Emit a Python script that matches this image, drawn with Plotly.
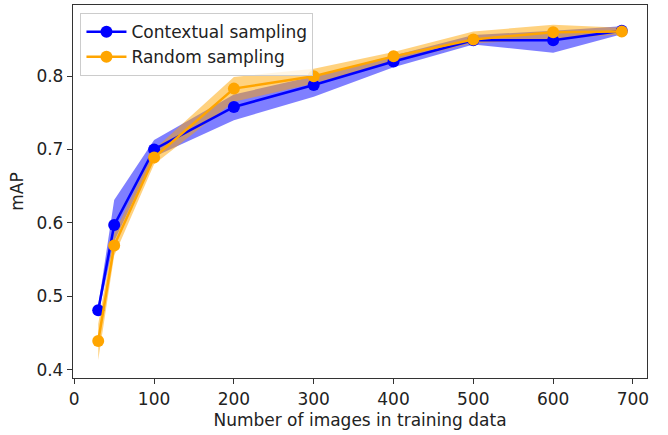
import plotly.graph_objects as go

x_images = [30, 50, 100, 200, 300, 400, 500, 600, 686]

ctx_map = [0.481, 0.597, 0.700, 0.758, 0.788, 0.820, 0.849, 0.849, 0.862]
ctx_low = [0.475, 0.575, 0.690, 0.740, 0.772, 0.812, 0.843, 0.832, 0.857]
ctx_high = [0.487, 0.631, 0.713, 0.775, 0.800, 0.828, 0.856, 0.862, 0.868]

rnd_map = [0.439, 0.569, 0.689, 0.783, 0.800, 0.827, 0.850, 0.860, 0.861]
rnd_low = [0.413, 0.555, 0.680, 0.765, 0.790, 0.820, 0.845, 0.850, 0.857]
rnd_high = [0.462, 0.585, 0.700, 0.799, 0.810, 0.833, 0.861, 0.870, 0.866]

x_ticks = [0, 100, 200, 300, 400, 500, 600, 700]
y_ticks = [0.4, 0.5, 0.6, 0.7, 0.8]

BLUE = "#0000ff"
ORANGE = "#ffa500"

fig = go.Figure()

def band(low, high, color):
    fig.add_trace(go.Scatter(x=x_images, y=high, mode="lines", line=dict(width=0),
                             showlegend=False, hoverinfo="skip"))
    fig.add_trace(go.Scatter(x=x_images, y=low, mode="lines", line=dict(width=0),
                             fill="tonexty", fillcolor=color, showlegend=False, hoverinfo="skip"))

band(ctx_low, ctx_high, "rgba(0,0,255,0.5)")
band(rnd_low, rnd_high, "rgba(255,165,0,0.5)")

fig.add_trace(go.Scatter(x=x_images, y=ctx_map, mode="lines+markers", name="Contextual sampling",
                         line=dict(color=BLUE, width=2.5), marker=dict(color=BLUE, size=12)))
fig.add_trace(go.Scatter(x=x_images, y=rnd_map, mode="lines+markers", name="Random sampling",
                         line=dict(color=ORANGE, width=2.5), marker=dict(color=ORANGE, size=12)))

FONT = dict(family="DejaVu Sans", size=17, color="#222")

axis_common = dict(showline=True, linecolor="#333", linewidth=1.3, mirror=True,
                   ticks="outside", ticklen=5, tickwidth=1.3, tickcolor="#333",
                   showgrid=False, zeroline=False, automargin=False,
                   tickfont=FONT)

fig.update_xaxes(range=[-1.6, 717.6], tickvals=x_ticks,
                 title=dict(text="Number of images in training data", standoff=6, font=FONT),
                 **axis_common)
fig.update_yaxes(range=[0.3885, 0.897], tickvals=y_ticks, tickformat=".1f",
                 title=dict(text="mAP", standoff=8, font=FONT),
                 **axis_common)

fig.update_layout(
    width=668, height=435,
    margin=dict(l=73, r=21, t=5, b=57),
    plot_bgcolor="white", paper_bgcolor="white",
    font=FONT,
    legend=dict(x=0.013, y=0.978, xanchor="left", yanchor="top", traceorder="normal",
                bgcolor="rgba(255,255,255,0.8)", bordercolor="#ccc", borderwidth=1,
                font=FONT, itemwidth=40, tracegroupgap=0),
)

fig.write_html("out.html", config={"displayModeBar": False},
               post_script="document.body.style.margin='0';document.body.style.overflow='hidden';")
